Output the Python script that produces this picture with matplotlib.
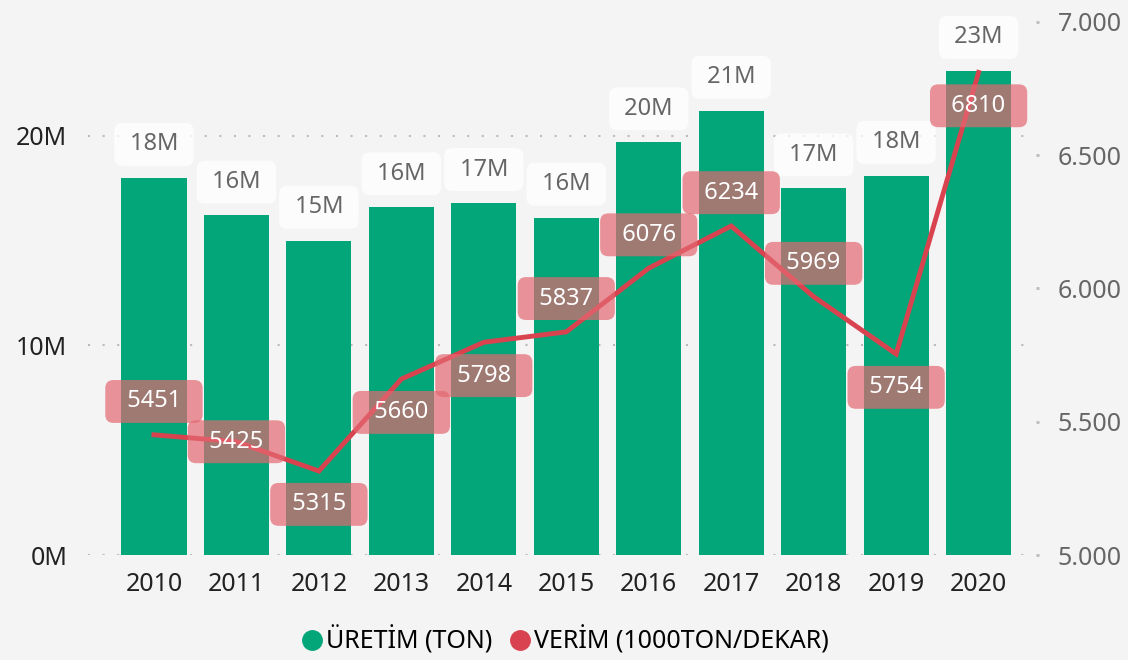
import matplotlib
matplotlib.use("Agg")
import matplotlib.pyplot as plt
from matplotlib.ticker import FuncFormatter
from matplotlib.lines import Line2D

plt.rcParams['font.family'] = ['Noto Sans', 'DejaVu Sans']

# data
years = ['2010', '2011', '2012', '2013', '2014', '2015', '2016', '2017', '2018', '2019', '2020']
uretim = [18.0e6, 16.2e6, 15.0e6, 16.6e6, 16.8e6, 16.1e6, 19.7e6, 21.2e6, 17.5e6, 18.1e6, 23.1e6]
uretim_labels = ['18M', '16M', '15M', '16M', '17M', '16M', '20M', '21M', '17M', '18M', '23M']
verim = [5451, 5425, 5315, 5660, 5798, 5837, 6076, 6234, 5969, 5754, 6810]
# where each line label sits relative to its point: 1 above, 0 on, -1 below
verim_label_side = [1, 0, -1, -1, -1, 1, 1, 1, 1, -1, -1]

green = '#03A679'
red = '#D9434F'
label_red = '#E36871'
bg = '#F4F4F4'

fig = plt.figure(figsize=(11.28, 6.6), dpi=100, facecolor=bg)
ax = fig.add_axes([0.078, 0.159, 0.84, 0.808])
ax.set_facecolor('none')
ax2 = ax.twinx()

x = list(range(len(years)))
ax.bar(x, uretim, width=0.79, color=green, zorder=2)
ax.set_xlim(-0.8, 10.69)
ax.set_ylim(0, 25.44e6)
ax.set_yticks([0, 10e6, 20e6])
ax.yaxis.set_major_formatter(FuncFormatter(lambda v, p: f'{v/1e6:.0f}M'))
ax.set_xticks(x)
ax.set_xticklabels(years)
ax.tick_params(axis='both', length=0, labelsize=18, colors='#222222')
ax.tick_params(axis='x', pad=12)
ax.tick_params(axis='y', pad=15)
ax.grid(axis='y', color='#BBBBBB', linestyle=(0, (1, 6)), linewidth=1.5, zorder=0)
for s in ax.spines.values():
    s.set_visible(False)

for xi, v, lab in zip(x, uretim, uretim_labels):
    ax.annotate(' ' + lab + ' ', (xi, v), xytext=(0, 24), textcoords='offset points',
                ha='center', va='center', fontsize=17, color='#666666', zorder=5,
                annotation_clip=False,
                bbox=dict(boxstyle='round,pad=0.4,rounding_size=0.35', fc='white',
                          ec='none', alpha=0.75))

ax2.plot(x, verim, color=red, linewidth=3.5, solid_joinstyle='miter', zorder=3)
ax2.set_ylim(5000, 7000)
ax2.set_yticks([5000, 5500, 6000, 6500, 7000])
ax2.yaxis.set_major_formatter(FuncFormatter(lambda v, p: f'{v:,.0f}'.replace(',', '.')))
ax2.tick_params(axis='y', length=2, width=2, color='#BBBBBB', labelsize=18,
                labelcolor='#666666', pad=14)
for s in ax2.spines.values():
    s.set_visible(False)

for xi, v, side in zip(x, verim, verim_label_side):
    ax2.annotate('  ' + str(v) + '  ', (xi, v), xytext=(0, 24 * side),
                 textcoords='offset points', ha='center', va='center', fontsize=17,
                 color='white', zorder=6, annotation_clip=False,
                 bbox=dict(boxstyle='round,pad=0.4,rounding_size=0.35', fc=label_red,
                           ec='none', alpha=0.7))

handles = [Line2D([], [], marker='o', linestyle='none', markersize=14, color=green),
           Line2D([], [], marker='o', linestyle='none', markersize=14, color=red)]
fig.legend(handles, ['ÜRETİM (TON)', 'VERİM (1000TON/DEKAR)'], loc='center',
           bbox_to_anchor=(0.5, 0.03), ncol=2, frameon=False, fontsize=18,
           handletextpad=0.05, columnspacing=0.6, handlelength=1.0)

fig.savefig('out.png', dpi=100, facecolor=bg)
